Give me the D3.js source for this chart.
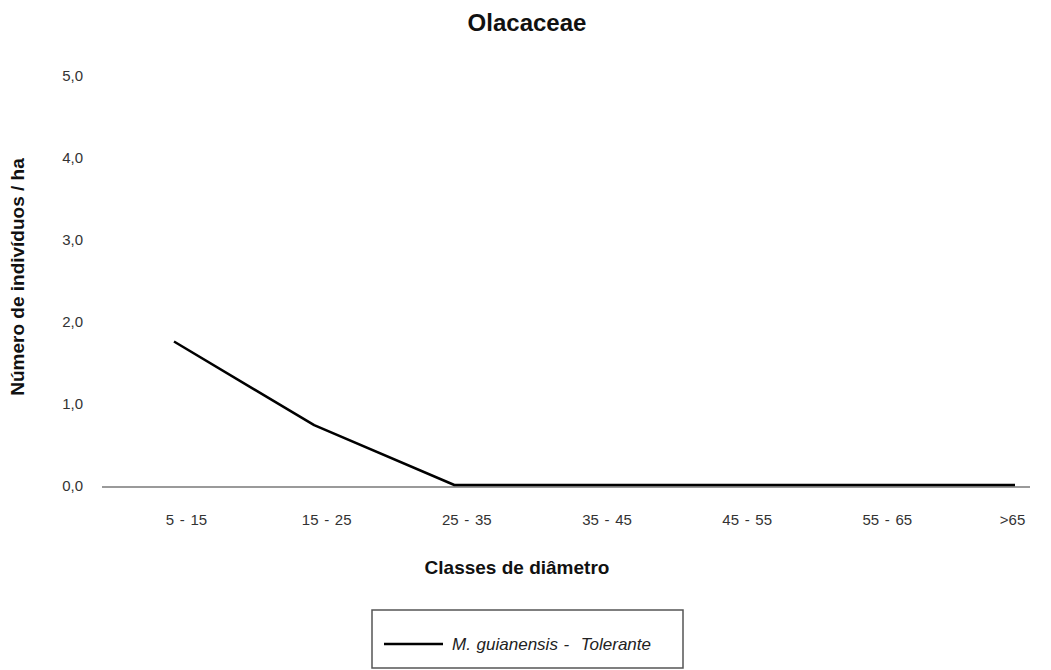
<!DOCTYPE html>
<html>
<head>
<meta charset="utf-8">
<script src="https://cdn.jsdelivr.net/npm/d3@7"></script>
<style>
  body { margin: 0; background: #fff; }
  svg { display: block; font-family: "Liberation Sans", Arial, sans-serif; }
</style>
</head>
<body>
<svg id="chart" width="1051" height="670"></svg>
<script>
const categories = ["5 - 15", "15 - 25", "25 - 35", "35 - 45", "45 - 55", "55 - 65", ">65"];
const values = [1.75, 0.73, 0, 0, 0, 0, 0];
const yTicks = [0, 1, 2, 3, 4, 5];
const seriesName = "M. guianensis -  Tolerante";
const title = "Olacaceae";
const yTitle = "Número de indivíduos / ha";
const xTitle = "Classes de diâmetro";

const svg = d3.select("#chart");
const x = d3.scalePoint().domain(categories).range([174, 1015]);
const y = d3.scaleLinear().domain([0, 5]).range([485, 75]);

// title
svg.append("text").attr("x", 527).attr("y", 31).attr("text-anchor", "middle")
  .attr("font-size", 24).attr("font-weight", "bold").attr("fill", "#111").text(title);

// baseline
svg.append("line").attr("x1", 102).attr("x2", 1030)
  .attr("y1", y(0) + 2).attr("y2", y(0) + 2)
  .attr("stroke", "#9a9a9a").attr("stroke-width", 2);

// y axis tick labels
const fmt = v => d3.format(".1f")(v).replace(".", ",");
const yAxis = d3.axisLeft(y).tickValues(yTicks).tickFormat(fmt).tickSize(0).tickPadding(0);
const gy = svg.append("g").attr("transform", "translate(83,0)").call(yAxis);
gy.select(".domain").remove();
gy.selectAll("text").attr("font-size", 15).attr("fill", "#333")
  .attr("font-family", "Liberation Sans, Arial, sans-serif").attr("dy", "0.35em");

// x axis labels
const xAxis = d3.axisBottom(x).tickSize(0).tickPadding(0);
const gx = svg.append("g").attr("transform", "translate(12,514)").call(xAxis);
gx.select(".domain").remove();
gx.selectAll("text").attr("font-size", 15).attr("fill", "#333")
  .attr("font-family", "Liberation Sans, Arial, sans-serif").attr("dy", "0.71em")
  .attr("word-spacing", "1.5px");
gx.selectAll("text").filter(d => d === ">65").attr("dx", -15);

// line
const line = d3.line().x((d, i) => x(categories[i])).y(d => y(d));
svg.append("path").datum(values).attr("d", line)
  .attr("fill", "none").attr("stroke", "#000").attr("stroke-width", 2.5)
  .attr("stroke-linejoin", "round");

// axis titles
svg.append("text").attr("transform", "translate(24,277) rotate(-90)")
  .attr("text-anchor", "middle").attr("font-size", 19).attr("font-weight", "bold")
  .attr("fill", "#111").text(yTitle);
svg.append("text").attr("x", 517).attr("y", 574).attr("text-anchor", "middle")
  .attr("font-size", 19).attr("font-weight", "bold").attr("fill", "#111").text(xTitle);

// legend
svg.append("rect").attr("x", 372).attr("y", 610).attr("width", 311).attr("height", 58)
  .attr("fill", "#fff").attr("stroke", "#555").attr("stroke-width", 1.5);
svg.append("line").attr("x1", 384).attr("x2", 443).attr("y1", 644).attr("y2", 644)
  .attr("stroke", "#000").attr("stroke-width", 2.5);
svg.append("text").attr("x", 452).attr("y", 650).attr("font-size", 17)
  .attr("font-style", "italic").attr("fill", "#222").attr("xml:space", "preserve")
  .attr("word-spacing", "1px")
  .style("white-space", "pre").text(seriesName);
</script>
</body>
</html>
